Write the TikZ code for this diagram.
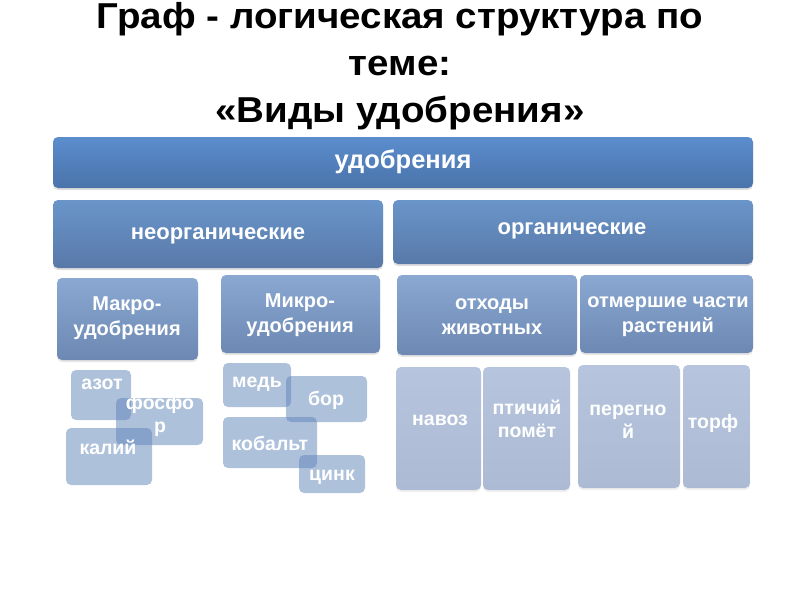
\documentclass[tikz,border=0pt]{standalone}
\usepackage{fontspec}
\setmainfont{Liberation Sans}
\usetikzlibrary{shadows}
\definecolor{aT}{HTML}{5B8DCD}\definecolor{aB}{HTML}{4A73AA}
\definecolor{bT}{HTML}{6A95CA}\definecolor{bB}{HTML}{5879A8}
\definecolor{cT}{HTML}{8AA8D2}\definecolor{cB}{HTML}{6C88B3}
\definecolor{lf}{HTML}{5E83B8}
\definecolor{rT}{HTML}{B6C5DD}\definecolor{rB}{HTML}{ACBBD3}
\tikzset{
  box/.style={rounded corners=5pt, inner sep=0pt, outer sep=0pt, anchor=north west},
  lvA/.style={box, top color=aT, bottom color=aB, drop shadow={opacity=0.25,shadow xshift=0pt,shadow yshift=-2pt}},
  lvB/.style={box, top color=bT, bottom color=bB, drop shadow={opacity=0.25,shadow xshift=0pt,shadow yshift=-2pt}},
  lvC/.style={box, top color=cT, bottom color=cB, drop shadow={opacity=0.2,shadow xshift=0pt,shadow yshift=-2pt}},
  leafL/.style={box, fill=lf, fill opacity=0.5},
  leafR/.style={box, top color=rT, bottom color=rB, drop shadow={opacity=0.12,shadow xshift=0pt,shadow yshift=-2pt}},
  ttl/.style={font=\fontsize{36}{42}\selectfont\bfseries, anchor=base, inner sep=0pt},
  wt/.style={text=white, align=center, inner sep=0pt},
  tA/.style={wt, font=\fontsize{25.5}{30}\selectfont\bfseries},
  tB/.style={wt, font=\fontsize{22}{26}\selectfont\bfseries},
  tC/.style={wt, font=\fontsize{20}{25}\selectfont\bfseries},
  tD/.style={wt, font=\fontsize{19.5}{23}\selectfont\bfseries},
}
\newcommand\mybox[6]{\node[#2, minimum width={(#5-#3)*1pt}, minimum height={(#6-#4)*1pt}] (#1) at (#3,#4) {};}
\newcommand\wide[1]{\scalebox{1.07}[1]{#1}}
\begin{document}
\begin{tikzpicture}[x=1pt,y=-1pt]
\useasboundingbox (0,0) rectangle (800,600);
% title
\node[ttl] (t1) at (400,28) {\wide{Граф - логическая структура по}};
\node[ttl] (t2) at (400,75) {\wide{теме:}};
\node[ttl] (t3) at (400,122) {\wide{«Виды удобрения»}};
% level 1
\mybox{root}{lvA}{53}{137}{753}{188}
\node[tA] (troot) at (403,162) {удобрения};
% level 2
\mybox{neorg}{lvB}{53}{200}{383}{268}
\node[tB] (tneorg) at (218,236) {неорганические};
\mybox{org}{lvB}{393}{200}{753}{264}
\node[tB] (torg) at (572,231) {органические};
% level 3
\mybox{makro}{lvC}{57}{278}{198}{360}
\node[tC] (tmakro) at (127,318) {Макро-\\удобрения};
\mybox{mikro}{lvC}{221}{275}{380}{353}
\node[tC] (tmikro) at (300,315) {Микро-\\удобрения};
\mybox{otx}{lvC}{397}{275}{577}{355}
\node[tC] (totx) at (492,317) {отходы\\животных};
\mybox{otm}{lvC}{580}{275}{753}{353}
\node[tC] (totm) at (668,317) {отмершие части\\растений};
% leaves left: macro
\mybox{azot}{leafL}{71}{370}{131}{420}
\node[tD] (tazot) at (102,384) {азот};
\mybox{fosf}{leafL}{116}{398}{203}{445}
\node[tD] (tfosf) at (160,416) {фосфо\\р};
\mybox{kal}{leafL}{66}{428}{152}{485}
\node[tD] (tkal) at (108,447) {калий};
% leaves left: micro
\mybox{med}{leafL}{223}{363}{291}{407}
\node[tD] (tmed) at (257,384) {медь};
\mybox{bor}{leafL}{286}{376}{367}{422}
\node[tD] (tbor) at (326,400) {бор};
\mybox{kob}{leafL}{223}{417}{317}{468}
\node[tD] (tkob) at (270,443) {кобальт};
\mybox{cink}{leafL}{299}{455}{365}{493}
\node[tD] (tcink) at (332,477) {цинк};
% leaves right
\mybox{navoz}{leafR}{396}{367}{481}{490}
\node[tD] (tnavoz) at (440,420) {навоз};
\mybox{ptich}{leafR}{483}{367}{570}{490}
\node[tD] (tptich) at (527,419) {птичий\\помёт};
\mybox{pereg}{leafR}{578}{365}{680}{488}
\node[tD] (tpereg) at (628,422) {перегно\\й};
\mybox{torf}{leafR}{683}{365}{750}{488}
\node[tD] (ttorf) at (713,423) {торф};
\end{tikzpicture}
\end{document}
